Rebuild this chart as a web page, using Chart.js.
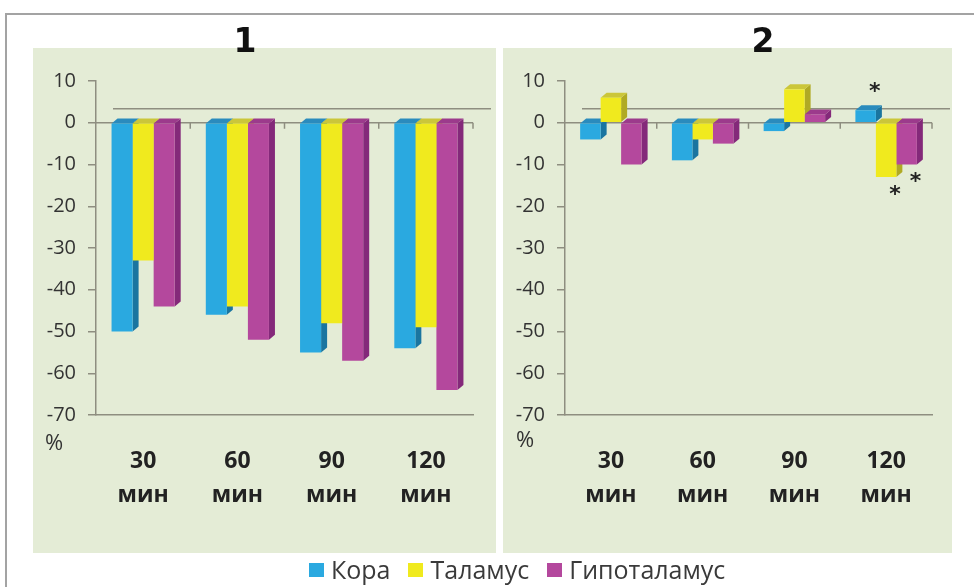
<!DOCTYPE html>
<html>
<head>
<meta charset="utf-8">
<script src="https://cdn.jsdelivr.net/npm/chart.js@4.4.1/dist/chart.umd.min.js"></script>
<style>
    body { margin: 0; background: #fff; width: 974px; height: 587px; overflow: hidden; position: relative; font-family: "Open Sans", sans-serif; }
    .frame { position: absolute; left: 5px; top: 13px; width: 990px; height: 600px; border-top: 2px solid #a3a3a3; border-left: 2px solid #a3a3a3; }
    .panel { position: absolute; top: 48px; height: 505px; background: #e4ecd6; }
    #p1 { left: 33px; width: 463px; }
    #p2 { left: 503px; width: 449px; }
    .panel canvas { position: absolute; left: 0; top: 0; }
    .title { position: absolute; top: 25px; width: 40px; text-align: center; font: 900 33px/32px "DejaVu Sans", sans-serif; color: #111; }
    .pct { position: absolute; font-size: 22px; line-height: 22px; color: #333; }
    #legend { position: absolute; left: 309px; top: 557px; display: flex; align-items: center; font-size: 25px; line-height: 25px; color: #3a3a3a; }
    #legend .sq { display: inline-block; width: 15px; height: 14px; margin-right: 7px; }
    #legend .item { display: flex; align-items: center; margin-right: 18px; }
</style>
</head>
<body>
<div class="frame"></div>
<div class="panel" id="p1"><canvas id="chart1" width="463" height="505"></canvas></div>
<div class="panel" id="p2"><canvas id="chart2" width="449" height="505"></canvas></div>
<div class="title" style="left:225px">1</div>
<div class="title" style="left:743px">2</div>
<div class="pct" style="left:45px; top:430px">%</div>
<div class="pct" style="left:516px; top:427px">%</div>
<div id="legend"></div>
<script>
// Данные
const categories = [['30', 'мин'], ['60', 'мин'], ['90', 'мин'], ['120', 'мин']];
const seriesNames = ['Кора', 'Таламус', 'Гипоталамус'];
const yTicks = [10, 0, -10, -20, -30, -40, -50, -60, -70];

// Панель 1
const kora1 = [-50, -46, -55, -54];
const talamus1 = [-33, -44, -48, -49];
const gipo1 = [-44, -52, -57, -64];

// Панель 2
const kora2 = [-4, -9, -2, 3];
const talamus2 = [6, -4, 8, -13];
const gipo2 = [-10, -5, 2, -10];

// звёздочки (серия, категория)
const stars2 = [[0, 3], [1, 3], [2, 3]];

const frontColors = ['#2aa9e0', '#f0ea1e', '#b4489d'];
const sideColors = ['#1a75a0', '#b0aa24', '#84297a'];
const topColors = ['#2a8bbd', '#cbc63a', '#9c3a8c'];
const axisColor = '#8e8e80';
const DX = 6, DY = 5;

// псевдо-3D: боковые и верхние грани + линии нуля
const bars3d = {
    id: 'bars3d',
    beforeDatasetsDraw(chart) {
        const { ctx, chartArea, scales: { x, y } } = chart;
        const y0 = y.getPixelForValue(0);
        ctx.save();
        ctx.strokeStyle = axisColor;
        ctx.lineWidth = 1.5;
        ctx.beginPath();
        ctx.moveTo(chartArea.left + 17, y0 - 14);
        ctx.lineTo(chartArea.right + 18, y0 - 14);
        ctx.moveTo(chartArea.left, y0);
        ctx.lineTo(chartArea.right, y0);
        for (let i = 1; i <= chart.data.labels.length; i++) {
            const px = x.getPixelForValue(i - 0.5);
            ctx.moveTo(px, y0);
            ctx.lineTo(px, y0 + 6);
        }
        ctx.stroke();

        chart.data.datasets.forEach((ds, di) => {
            chart.getDatasetMeta(di).data.forEach(bar => {
                const p = bar.getProps(['x', 'y', 'base', 'width'], true);
                const x1 = p.x - p.width / 2, x2 = p.x + p.width / 2;
                const top = Math.min(p.y, p.base), bot = Math.max(p.y, p.base);
                ctx.fillStyle = sideColors[di];
                ctx.beginPath();
                ctx.moveTo(x2, top);
                ctx.lineTo(x2 + DX, top - DY);
                ctx.lineTo(x2 + DX, bot - DY);
                ctx.lineTo(x2, bot);
                ctx.closePath();
                ctx.fill();
                ctx.fillStyle = topColors[di];
                ctx.beginPath();
                ctx.moveTo(x1, top);
                ctx.lineTo(x1 + DX, top - DY);
                ctx.lineTo(x2 + DX, top - DY);
                ctx.lineTo(x2, top);
                ctx.closePath();
                ctx.fill();
            });
        });
        ctx.restore();
    }
};

const starsPlugin = {
    id: 'stars',
    afterDatasetsDraw(chart, args, opts) {
        const marks = opts.marks || [];
        if (!marks.length) return;
        const ctx = chart.ctx;
        ctx.save();
        ctx.fillStyle = '#222';
        ctx.font = 'bold 22px "DejaVu Sans"';
        ctx.textAlign = 'center';
        ctx.textBaseline = 'middle';
        marks.forEach(([s, c]) => {
            const p = chart.getDatasetMeta(s).data[c].getProps(['x', 'y', 'base'], true);
            const up = p.y < p.base;
            ctx.fillText('*', p.x + 9, up ? p.y - 18 : p.y + 18);
        });
        ctx.restore();
    }
};

function makeChart(id, values, yWidth, padRight, marks) {
    return new Chart(document.getElementById(id), {
        type: 'bar',
        data: {
            labels: categories,
            datasets: seriesNames.map((name, i) => ({
                label: name,
                data: values[i],
                backgroundColor: frontColors[i],
                borderWidth: 0,
                categoryPercentage: 0.67,
                barPercentage: 1.0
            }))
        },
        options: {
            responsive: false,
            animation: false,
            devicePixelRatio: 1,
            layout: { padding: { top: 33, right: padRight, left: 0, bottom: 0 } },
            plugins: {
                legend: { display: false },
                tooltip: { enabled: false },
                stars: { marks: marks }
            },
            scales: {
                x: {
                    grid: { display: true, drawOnChartArea: false, drawTicks: false },
                    border: { display: true, color: axisColor, width: 1.5 },
                    ticks: {
                        color: '#222',
                        padding: 29,
                        maxRotation: 0,
                        font: { family: 'Open Sans', size: 23, weight: 'bold', lineHeight: 34 / 23 }
                    },
                    afterFit: s => { s.height = 138; }
                },
                y: {
                    min: Math.min(...yTicks),
                    max: Math.max(...yTicks),
                    grid: { drawOnChartArea: false, drawTicks: true, tickLength: 8, color: axisColor, lineWidth: 1.5 },
                    border: { display: true, color: axisColor, width: 1.5 },
                    ticks: {
                        stepSize: 10,
                        color: '#333',
                        padding: 12,
                        font: { family: 'Open Sans', size: 20 }
                    },
                    afterFit: s => { s.width = yWidth; }
                }
            }
        },
        plugins: [bars3d, starsPlugin]
    });
}

makeChart('chart1', [kora1, talamus1, gipo1], 63, 23, []);
makeChart('chart2', [kora2, talamus2, gipo2], 62, 20, stars2);

// Легенда
const legend = document.getElementById('legend');
seriesNames.forEach((name, i) => {
    const item = document.createElement('div');
    item.className = 'item';
    const sq = document.createElement('span');
    sq.className = 'sq';
    sq.style.background = frontColors[i];
    item.appendChild(sq);
    item.appendChild(document.createTextNode(name));
    legend.appendChild(item);
});
</script>
</body>
</html>
